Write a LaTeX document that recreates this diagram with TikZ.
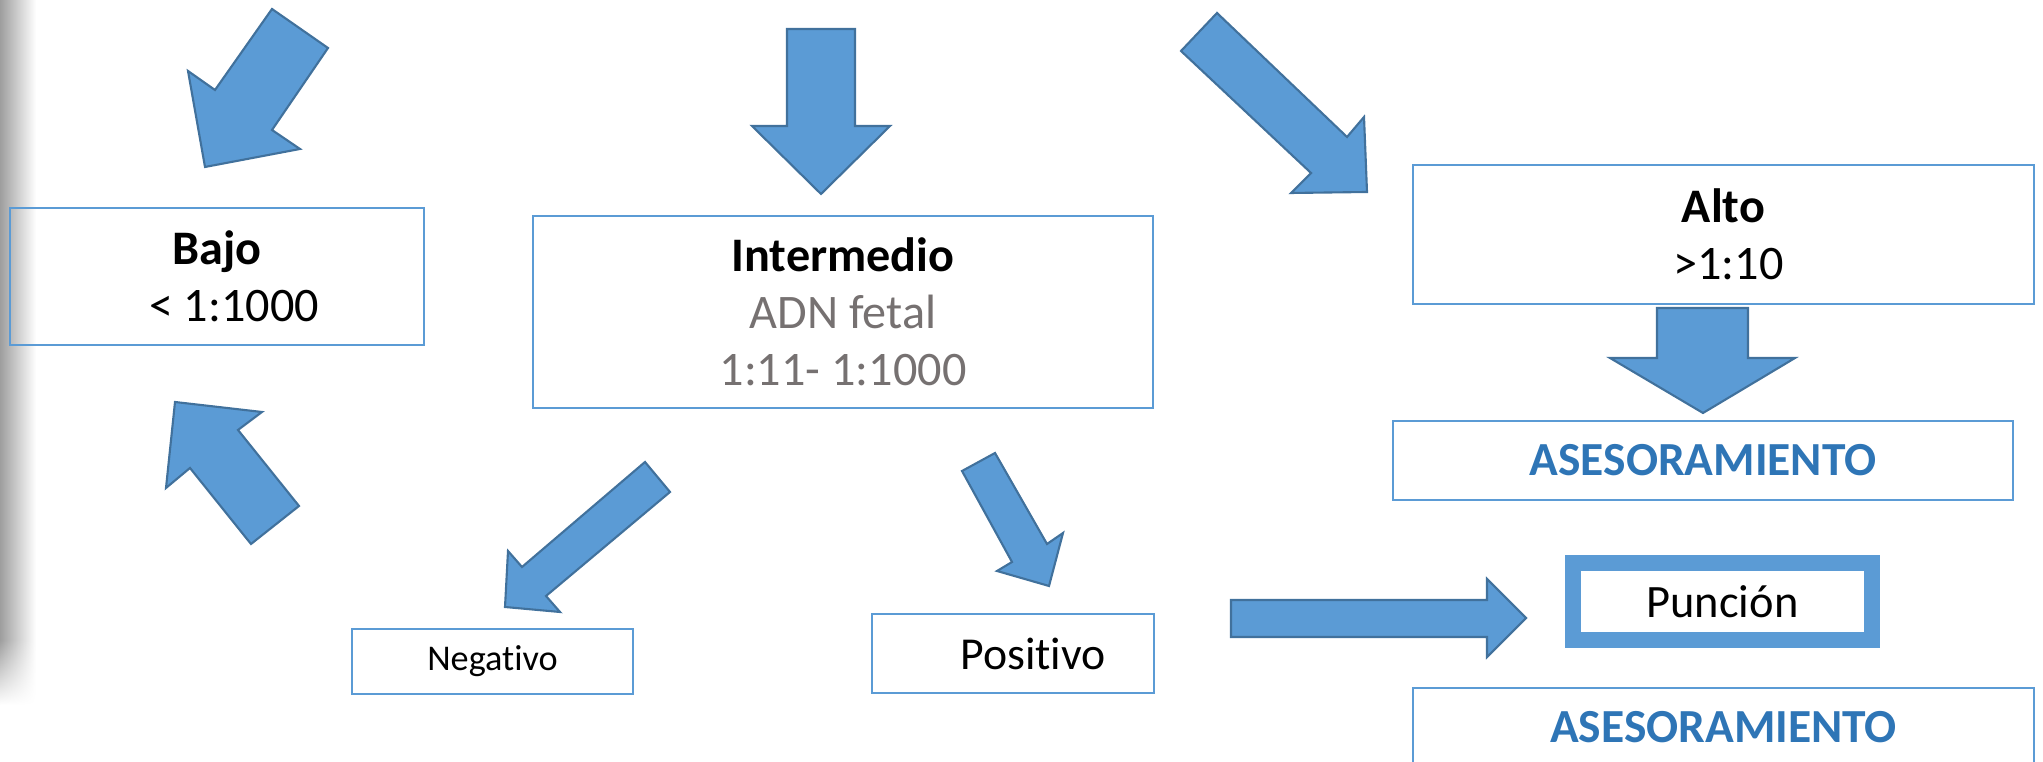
\documentclass[tikz,border=0pt]{standalone}
\usepackage{fontspec}
\setmainfont{Carlito}[Ligatures=NoCommon]
\usetikzlibrary{fadings}
\definecolor{arrowfill}{HTML}{5B9BD5}
\definecolor{arrowedge}{HTML}{41719C}
\definecolor{boxline}{HTML}{5B9BD5}
\definecolor{advice}{HTML}{2E75B6}
\definecolor{note}{HTML}{767171}

\begin{document}
\begin{tikzpicture}[x=0.01cm,y=-0.01cm,
 every node/.style={font=\fontsize{13.7}{16.2}\selectfont},
 level/.style={rectangle,draw=boxline,line width=0.6pt,align=center,inner sep=0pt},
 advicebox/.style={level,minimum width=6.2cm,minimum height=0.79cm,text=advice,
   font=\fontsize{13.5}{16}\selectfont\bfseries},
 blockarrow/.style={fill=arrowfill,draw=arrowedge,line width=0.6pt,line join=miter}]
\useasboundingbox (0,0) rectangle (2043,762);
% page shadow
\shade[left color=black!38,right color=white] (0,0) rectangle (36,640);
\shade[left color=black!38,right color=white,path fading=south] (0,640) rectangle (36,705);

\node[level,minimum width=4.14cm,minimum height=1.37cm] (bajo) at (217,276.5)
 {\textbf{Bajo}\\\hspace*{0.34cm}< 1:1000};
\node[level,minimum width=6.2cm,minimum height=1.92cm] (inter) at (843,312)
 {\textbf{Intermedio}\\\textcolor{note}{ADN fetal}\\\textcolor{note}{1:11- 1:1000}};
\node[level,minimum width=6.21cm,minimum height=1.39cm] (alto) at (1723.5,234.5)
 {\textbf{Alto}\\\hspace*{0.1cm}>1:10};
\node[advicebox] (ases1) at (1703,460.5) {ASESORAMIENTO};
\node[level,draw=arrowfill,line width=0.16cm,minimum width=2.99cm,minimum height=0.77cm,
 font=\fontsize{13.2}{16}\selectfont] (puncion) at (1722.5,601.5) {Punción};
\node[advicebox,minimum width=6.21cm] (ases2) at (1723.5,727.5) {ASESORAMIENTO};
\node[level,minimum width=2.81cm,minimum height=0.65cm,font=\fontsize{10.3}{12}\selectfont]
 (neg) at (492.5,661.5) {Negativo};
\node[level,minimum width=2.82cm,minimum height=0.79cm,font=\fontsize{13}{16}\selectfont]
 (pos) at (1013,653.5) {\hspace*{0.4cm}Positivo};

\filldraw[blockarrow] (272,9) -- (328,48) -- (272,130) -- (300,149) -- (205,167)
 -- (188,71) -- (215,90) -- cycle;
\filldraw[blockarrow] (787,29) -- (855,29) -- (855,126) -- (890,126) -- (821,194)
 -- (752,126) -- (787,126) -- cycle;
\filldraw[blockarrow] (1217,13) -- (1347,137) -- (1364,117) -- (1367,192) -- (1291,193)
 -- (1311,173) -- (1181,51) -- cycle;
\filldraw[blockarrow] (175,402) -- (262,412) -- (238,430) -- (299,506) -- (251,544)
 -- (190,468) -- (166,488) -- cycle;
\filldraw[blockarrow] (1657,308) -- (1748,308) -- (1748,358) -- (1795,358) -- (1703,413)
 -- (1610,358) -- (1657,358) -- cycle;
\filldraw[blockarrow] (645,462) -- (670,492) -- (546,596) -- (560,612) -- (505,607)
 -- (508,551) -- (522,567) -- cycle;
\filldraw[blockarrow] (962,471) -- (995,453) -- (1047,544) -- (1063,533) -- (1049,586)
 -- (997,571) -- (1012,562) -- cycle;
\filldraw[blockarrow] (1231,600) -- (1487,600) -- (1487,579) -- (1526,618) -- (1487,657)
 -- (1487,637) -- (1231,637) -- cycle;
\end{tikzpicture}
\end{document}
